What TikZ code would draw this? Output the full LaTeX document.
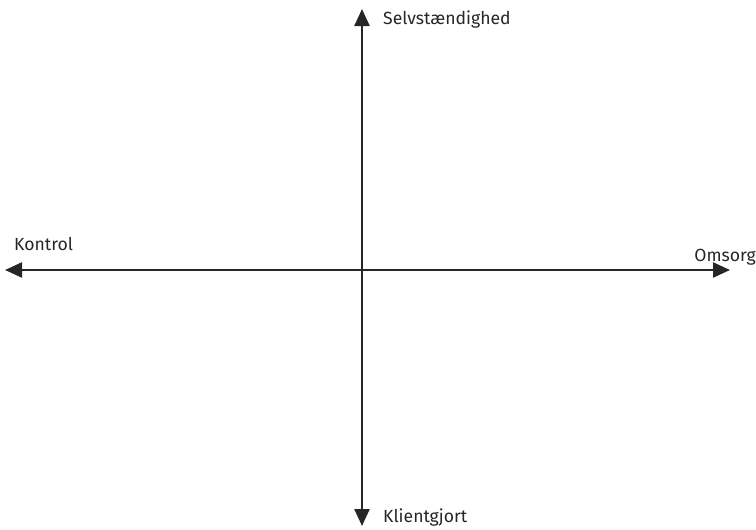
\documentclass[tikz,border=0pt]{standalone}
\usepackage{fontspec}
\setmainfont{Fira Sans}
\usetikzlibrary{arrows.meta, positioning}

\begin{document}
\begin{tikzpicture}[
  x = 1pt, y = -1pt,
  font = \fontsize{17.6}{20}\selectfont,
  %
  % ── Styles ──────────────────────────────────────────────────────
  axis/.style  = {{Triangle[length=17pt, width=15pt]}-{Triangle[length=17pt, width=15pt]},
                  line width=2.4pt, draw=black!85},
  pole/.style  = {inner sep=0pt, text=black!85},
]

\useasboundingbox (0,0) rectangle (756,530);

%% ── Axis end points ─────────────────────────────────────────────
\coordinate (ax-top)    at (362, 9);
\coordinate (ax-bottom) at (362, 526);
\coordinate (ax-left)   at (5, 270);
\coordinate (ax-right)  at (730, 270);

%% ── Axes ────────────────────────────────────────────────────────
\draw[axis] (ax-bottom) -- (ax-top);
\draw[axis] (ax-left)   -- (ax-right);

%% ── Pole labels ─────────────────────────────────────────────────
\node[pole, anchor=west]  (selv)   at (383, 20)  {Selvstændighed};
\node[pole, anchor=west]  (kontr)  at (14, 244)  {Kontrol};
\node[pole, anchor=east]  (omsorg) at (756, 257) {Omsorg};
\node[pole, anchor=west]  (klient) at (383, 518) {Klientgjort};

\end{tikzpicture}
\end{document}
